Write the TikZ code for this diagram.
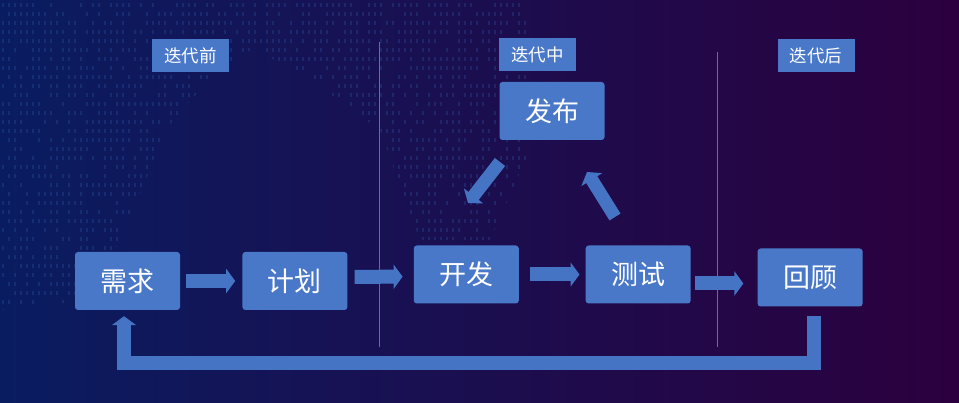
\documentclass[tikz,border=0pt]{standalone}
\usepackage{fontspec}
\setmainfont{Noto Sans CJK SC}
\usetikzlibrary{positioning, arrows.meta}
\definecolor{boxblue}{HTML}{4A78C9}
\definecolor{flowblue}{HTML}{4674C4}
\definecolor{bgleft}{HTML}{0A1C60}
\definecolor{bgmid}{HTML}{170955}
\definecolor{bgright}{HTML}{2C003E}
\definecolor{dotblue}{HTML}{2A5AA6}
\definecolor{dividergray}{HTML}{6E6A94}

\begin{document}
\begin{tikzpicture}[
		x=1pt, y=-1pt,
		stage/.style={rectangle, rounded corners=3pt, fill=boxblue, text=white, inner sep=0pt, minimum width=105pt, minimum height=58pt, font=\fontsize{27}{27}\selectfont},
		period/.style={rectangle, fill=boxblue, text=white, inner sep=0pt, minimum width=77pt, minimum height=33pt, font=\fontsize{17.5}{18}\selectfont},
		flow/.style={draw=flowblue, line width=14pt, -{Triangle[length=9pt, width=24pt]}},
		divider/.style={draw=dividergray, line width=0.6pt}
	]

	\useasboundingbox (0,0) rectangle (959,403);
	\shade[left color=bgleft, middle color=bgmid, right color=bgright] (0,0) rectangle (959,403);

	% dotted map
	\begin{scope}
		\clip (0,0) -- (530,0) -- (530,150) -- (490,240) -- (420,240) -- (380,130) -- (290,65) -- (245,50) -- (200,90) -- (165,130) -- (130,220) -- (90,300) -- (0,310) -- cycle;
		\pgfmathsetseed{41}
		\foreach \i in {0,...,88}
			\foreach \j in {0,...,34} {
				\pgfmathsetmacro{\keep}{rnd}
				\ifdim\keep pt>0.35pt
					\fill[dotblue, opacity=0.3] (\i*6+2,\j*9+3) rectangle ++(2,4);
				\fi
			}
	\end{scope}

	\node[stage] at (127.5,281) (req) {需求};
	\node[stage, right=62pt of req] (plan) {计划};
	\node[stage, right=66pt of plan, yshift=6.5pt] (dev) {开发};
	\node[stage, right=66.5pt of dev] (test) {测试};
	\node[stage, right=66.5pt of test, yshift=-3pt] (review) {回顾};
	\node[stage] at (552,111) (release) {发布};

	\node[period] at (190.5,55.5) (before) {迭代前};
	\node[period] at (537.5,55) (during) {迭代中};
	\node[period] at (816,56) (after) {迭代后};

	\coordinate (div1top) at (379,42);
	\coordinate (div1bot) at (379,347);
	\coordinate (div2top) at (717,52);
	\coordinate (div2bot) at (717,347);
	\foreach \i/\j in {div1top/div1bot, div2top/div2bot}
		\draw[divider] (\i) -- (\j);

	\draw[flow, shorten <=6pt, shorten >=7pt] (req) -- (plan);
	\draw[flow, shorten <=7pt, shorten >=11pt] ([yshift=4pt]plan.east) -- ([yshift=-2pt]dev.west);
	\draw[flow, shorten <=11pt, shorten >=6pt] (dev) -- (test);
	\draw[flow, shorten <=4pt, shorten >=14pt] ([yshift=-9pt]test.east) -- ([yshift=-6pt]review.west);

	\draw[flow] ([yshift=-9pt, xshift=3.5pt]review.south) |- (124,363) -- ([xshift=-3.5pt, yshift=-6pt]req.south);

	\coordinate (reltail) at (500,162);
	\coordinate (devtip) at (468,203);
	\coordinate (testtail) at (615,217);
	\coordinate (reltip) at (587,172);
	\foreach \i/\j in {reltail/devtip, testtail/reltip}
		\draw[flow, line width=13pt] (\i) -- (\j);

\end{tikzpicture}
\end{document}
